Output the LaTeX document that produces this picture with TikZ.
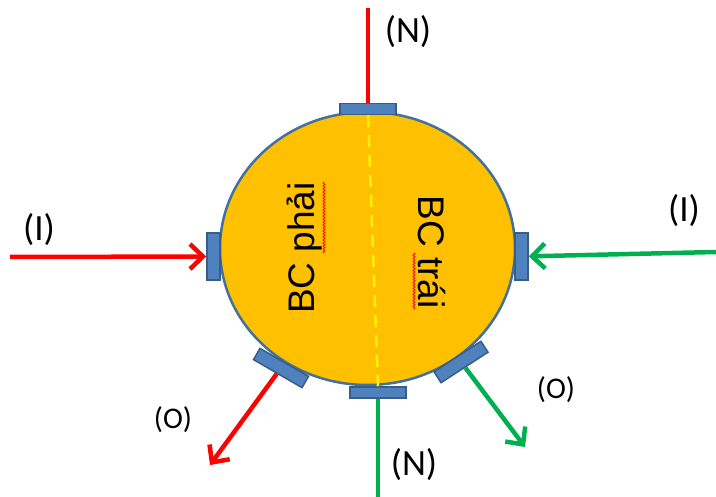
\documentclass[tikz,border=0pt]{standalone}
\usepackage{fontspec}
\setmainfont{Carlito}
\newfontfamily\arialfont{Liberation Sans}
\usetikzlibrary{shapes.geometric,arrows.meta,decorations.pathmorphing}

\definecolor{disc}{HTML}{FFC000}
\definecolor{rim}{HTML}{41719C}
\definecolor{padfill}{HTML}{4F81BD}
\definecolor{padline}{HTML}{385D8A}
\definecolor{inred}{HTML}{FF0000}
\definecolor{ingreen}{HTML}{00B050}

\tikzset{
  flange/.style={draw=padline, fill=padfill, line width=1.5pt, minimum width=56pt, minimum height=11pt, inner sep=0pt},
  sideflange/.style={flange, minimum width=13pt, minimum height=47pt},
  redline/.style={draw=inred, line width=4.5pt},
  greenline/.style={draw=ingreen, line width=4.5pt},
  flow/.style={-{Straight Barb[length=13pt,width=25pt]}},
  tag/.style={font=\fontsize{37}{40}\selectfont, inner sep=0pt},
  smalltag/.style={font=\fontsize{30}{34}\selectfont, inner sep=0pt},
  zone/.style={font=\arialfont\fontsize{37}{40}\selectfont, inner sep=0pt},
  spell/.style={draw=red, line width=0.8pt, decorate, decoration={snake, amplitude=1pt, segment length=3pt}}
}

\begin{document}
\begin{tikzpicture}[x=1pt, y=-1pt]
  \useasboundingbox (0,0) rectangle (716,497);

  % --- Basin ---
  \node[ellipse, draw=rim, fill=disc, line width=2.5pt, minimum width=295pt, minimum height=273pt, inner sep=0pt] (basin) at (367.5,248.5) {};

  % --- Flanges round the rim ---
  \node[flange] (padT) at (368,109) {};
  \node[flange] (padB) at (378,392.5) {};
  \node[sideflange] (padL) at (213.5,256.5) {};
  \node[sideflange] (padR) at (521.5,256.5) {};
  \node[flange, minimum height=13pt, rotate=-30] (padLL) at (281,368) {};
  \node[flange, minimum height=13pt, rotate=33] (padLR) at (461,362) {};

  % --- Divider and zone names ---
  \draw[draw=yellow, line width=2.5pt, dash pattern=on 12pt off 8pt] (padT.south) -- (padB.north);
  \node[zone, rotate=90] (phai) at (305,248) {BC phải};
  \node[zone, rotate=-90] (trai) at (432,252) {BC trái};
  \draw[spell] (324,253) -- (324,182);
  \draw[spell] (414,253) -- (414,310);

  % --- Free ends ---
  \coordinate (nTop) at (368,8);
  \coordinate (nBottom) at (378,497);
  \coordinate (iLeft) at (10,257);
  \coordinate (iRight) at (716,252);
  \coordinate (oLeft) at (210,465);
  \coordinate (oRight) at (525,447);

  % --- Red side (inflow left, outflow lower left) ---
  \draw[redline] (nTop) -- (padT);
  \draw[redline, flow] (iLeft) -- (padL);
  \draw[redline, flow] (padLL) -- (oLeft);

  % --- Green side ---
  \draw[greenline, flow] (iRight) -- (padR);
  \draw[greenline, flow] (padLR) -- (oRight);
  \draw[greenline] (padB) -- (nBottom);

  % --- Labels ---
  \node[tag] (lblNT) at (408,32) {(N)};
  \node[tag] (lblIL) at (39,230) {(I)};
  \node[tag] (lblIR) at (684,211) {(I)};
  \node[smalltag] (lblOR) at (556,390) {(O)};
  \node[smalltag] (lblOL) at (173,420) {(O)};
  \node[tag] (lblNB) at (414,465) {(N)};
\end{tikzpicture}
\end{document}
